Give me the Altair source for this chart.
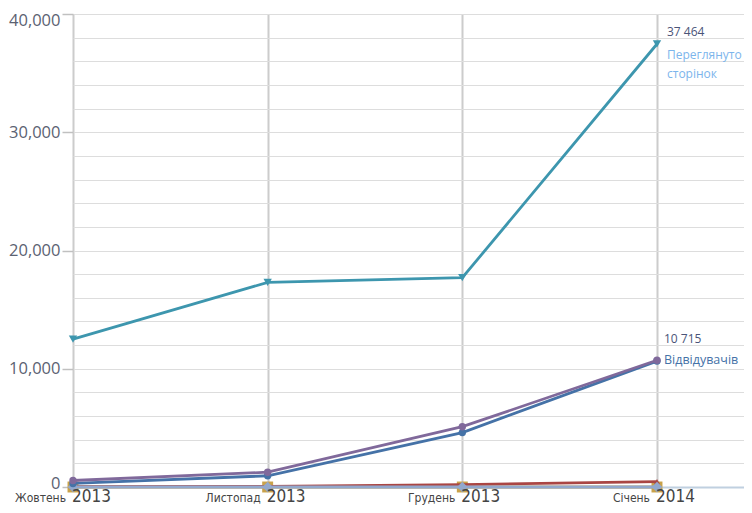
import altair as alt
import pandas as pd

months = ["Жовтень", "Листопад", "Грудень", "Січень"]
years = ["2013", "2013", "2013", "2014"]
idx = [0, 1, 2, 3]

series_names = ["Переглянуто сторінок", "Відвідувачів", "Візити", "Нові", "Інше", "Нуль"]
views = [12500, 17300, 17700, 37464]
visitors = [550, 1250, 5100, 10715]
visits = [300, 950, 4600, 10650]
red_vals = [30, 60, 200, 450]
sq_vals = [0, 0, 0, 0]
dia_vals = [0, 0, 0, 0]

colors = ["#3D96AE", "#80699B", "#4572A7", "#AA4643", "#C9A24A", "#92A8CD"]
shapes = ["triangle-down", "circle", "circle", "triangle-up", "square", "diamond"]
sizes = [70, 55, 55, 40, 120, 110]
all_vals = [views, visitors, visits, red_vals, sq_vals, dia_vals]

W, H = 671, 473
XMAX = 3.447

rows = []
for s, vals in zip(series_names, all_vals):
    for i, v in zip(idx, vals):
        rows.append({"series": s, "i": i, "v": v})
df = pd.DataFrame(rows)

xs = alt.Scale(domain=[0, XMAX], nice=False, zero=False)
ys = alt.Scale(domain=[0, 40000], nice=False)

xax = alt.Axis(values=idx, grid=True, gridColor="#cccccc", gridWidth=2, labels=False,
               ticks=False, domain=True, domainColor="#C0D0E0", domainWidth=2, title=None)
yax = alt.Axis(values=list(range(0, 40001, 2000)), grid=True, gridColor="#dddddd", gridWidth=1,
               labelExpr="datum.value % 10000 == 0 ? format(datum.value, ',') : ''",
               labelFont="Open Sans", labelFontSize=16.5, labelColor="#5b6272", labelPadding=2,
               labelOffset={"condition": [
                   {"test": "datum.value === 40000", "value": 6},
                   {"test": "datum.value === 0", "value": -4}], "value": 0},
               tickSize=11, tickColor="#c0c0c0", tickWidth=1.5,
               tickOpacity={"condition": {"test": "datum.value % 10000 === 0", "value": 1}, "value": 0},
               domain=False, title=None)

X = alt.X("i:Q", scale=xs, axis=xax)
Y = alt.Y("v:Q", scale=ys, axis=yax)

layers = []
draw_order = ["Інше", "Нові", "Нуль", "Візити", "Відвідувачів", "Переглянуто сторінок"]
for s in draw_order:
    k = series_names.index(s)
    d = df[df.series == s]
    line = alt.Chart(d).mark_line(strokeWidth=2.8, color=colors[k]).encode(x=X, y=Y)
    pts = alt.Chart(d).mark_point(filled=True, opacity=1, shape=shapes[k], size=sizes[k],
                                  color=colors[k]).encode(x=X, y=Y)
    layers += [line, pts]

ann_views = pd.DataFrame({"i": [3], "v": [37464]})
ann_vis = pd.DataFrame({"i": [3], "v": [10715]})


def ann(d, txt, dx, dy, size, color):
    return alt.Chart(d).mark_text(align="left", baseline="middle", dx=dx, dy=dy,
                                  font="Open Sans", fontSize=size, color=color).encode(
        x=X, y=Y, text=alt.value(txt))


a1 = ann(ann_views, "37 464", 10, -12, 12, "#4a5478")
a2 = ann(ann_views, "Переглянуто", 10, 11, 12, "#7cb5ec")
a3 = ann(ann_views, "сторінок", 10, 30, 12, "#7cb5ec")
a4 = ann(ann_vis, "10 715", 7, -21, 12, "#4a5478")
a5 = ann(ann_vis, "Відвідувачів", 7, 0, 12.5, "#4572A7")

lab = pd.DataFrame({"i": idx, "m": months, "y": years})
narrow = "'DejaVu Sans Condensed', 'Liberation Sans Narrow', 'Liberation Sans', sans-serif"
mlab = alt.Chart(lab).mark_text(align="right", baseline="alphabetic", dx=-7,
                                font=narrow, fontSize=12, color="#444444").encode(
    x=X, y=alt.value(H + 15), text="m:N")
ylab = alt.Chart(lab).mark_text(align="left", baseline="alphabetic", dx=-1,
                                font=narrow, fontSize=17, color="#444444").encode(
    x=X, y=alt.value(H + 15), text="y:N")

chart = alt.layer(*layers, a1, a2, a3, a4, a5, mlab, ylab).properties(
    width=W, height=H,
    autosize=alt.AutoSizeParams(type="none"),
    padding={"left": 65, "top": 6, "right": 0, "bottom": 18},
).configure_view(stroke=None).configure(background="white")

chart.save("out.html", embed_options={"renderer": "svg", "actions": False})
